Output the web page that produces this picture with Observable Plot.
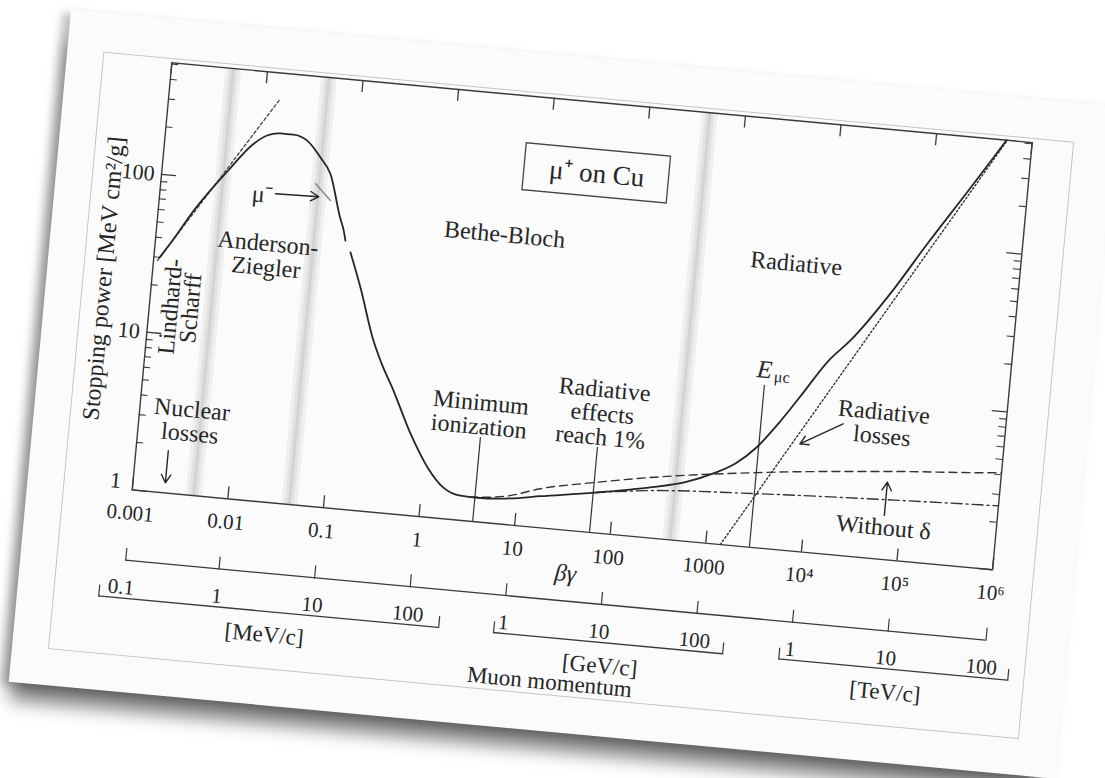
<!DOCTYPE html>
<html><head><meta charset="utf-8">
<script src="https://cdn.jsdelivr.net/npm/d3@7"></script>
<script src="https://cdn.jsdelivr.net/npm/@observablehq/plot@0.6"></script>
<style>
html,body{margin:0;padding:0;background:#fff;width:1105px;height:778px;overflow:hidden;}
#stage{position:absolute;left:0;top:0;width:1105px;height:778px;transform:rotate(5.3deg);transform-origin:581.75px 315.75px;}
#card{position:absolute;left:45px;top:58px;width:1050px;height:675px;background:#fbfbfb;
  box-shadow:-8px 4px 9px rgba(0,0,0,0.25), -6px 26px 18px -8px rgba(0,0,0,0.5);}
#inner{position:absolute;left:36px;top:39px;width:973px;height:598px;border:1px solid #c6c6c6;}
#main,#mom{position:absolute;left:0;}
#main{top:0px;}
#mom{top:541px;}
</style></head>
<body>
<div id="stage"><div id="card"><div id="inner"></div></div><div id="main"></div><div id="mom"></div></div>
<script>
// ---------- data ----------
const MUON_MASS = 105.66; // MeV/c^2, converts βγ to muon momentum
const bgDomain = [1e-3, 1e6];
const stopDomain = [1, 509];
const bgTicks = [1e-3, 1e-2, 0.1, 1, 10, 100, 1000, 1e4, 1e5, 1e6];
const bgTickLabels = ["0.001", "0.01", "0.1", "1", "10", "100", "1000", "10⁴", "10⁵", "10⁶"];
const stopMajor = [1, 10, 100];
const stopMinor = [2,3,4,5,6,7,8,9,20,30,40,50,60,70,80,90,200,300,400,500];
const regionBounds = [0.0044, 0.044, 425];

// total stopping power, μ+ on Cu: [βγ, MeV cm²/g]
const totalLow = [[0.00115,30],[0.0016,41.5],[0.00227,60],[0.0033,84],[0.00479,114],[0.00845,176],[0.01143,202],[0.01563,212],[0.0215,212],[0.0301,198],[0.0429,158],[0.0565,126],[0.0781,68.3],[0.0879,56.6],[0.0936,49.1]];
const totalHigh = [[0.1083,41.7],[0.1487,25.4],[0.228,12.0],[0.282,9.07],[0.411,5.98],[0.678,3.29],[1.10,2.06],[1.68,1.57],[2.57,1.43],[3.87,1.42],[8.53,1.47],[17.4,1.58],[62.6,1.79],[225,2.07],[525,2.34],[1030,2.77],[1702,3.29],[2714,4.27],[4353,6.22],[6784,9.32],[12500,16.5],[20220,22.8],[50000,50],[100000,100],[250000,240],[540000,509]];
const ionWithDelta = [[3.2,1.42],[8.0,1.52],[17,1.76],[61,2.07],[220,2.39],[2870,2.97],[89000,3.66],[930000,4.11],[1e6,4.13]];
const ionWithoutDelta = [[62.6,1.79],[226,1.98],[3000,2.19],[95000,2.41],[825000,2.53],[1e6,2.54]];
const radiativeLoss = [[1420,1.0],[549000,509]];
const lindhard = [[0.0011,28.6],[0.0145,351]];
const muMinus = [[0.0403,107.6],[0.0599,85.9]];
const markerLines = [{bg:3.64, top:3.40}, {bg:60.8, top:3.45}, {bg:2858, top:10.6}];

const labels = [
  {text:"Bethe-Bloch", bg:4.14, s:66.3},
  {text:"Radiative", bg:4667, s:64.4},
  {text:"Anderson-\nZiegler", bg:0.01486, s:35.6},
  {text:"Nuclear\nlosses", bg:0.00349, s:2.91},
  {text:"Minimum\nionization", bg:3.42, s:4.75},
  {text:"Radiative\neffects\nreach 1%", bg:63.6, s:5.68},
  {text:"Radiative\nlosses", bg:52900, s:7.10},
  {text:"Without δ", bg:67230, s:1.591}
];
const vLabels = [{text:"Lindhard-\nScharff", bg:0.00217, s:14.96}];
const boxLabel = {text:"μ⁺ on Cu", bg:32.6, s:181, bg1:5.73, bg2:185, s1:129, s2:256};
const muLabel = {text:"μ⁻", bg:0.01164, s:85.4};
const emuLabel = {bg:3354, s:13.3};
const arrows = [
  {bg1:0.00217, s1:1.85, bg2:0.00217, s2:1.16},
  {bg1:0.0159, s1:88.0, bg2:0.0449, s2:89.3},
  {bg1:20400, s1:6.76, bg2:7600, s2:4.77},
  {bg1:66900, s1:1.90, bg2:66900, s2:3.08}
];

// muon momentum scale (MeV/c); the 100 TeV tick coincides with the scale's right end
const momentumTicks = [1, 10, 100, 1e3, 1e4, 1e5, 1e6, 1e7];
const brackets = [
  {unit:"[MeV/c]", from:0.06, to:216, unitAt:3.4, per:1, labels:[0.1, 1, 10, 100]},
  {unit:"[GeV/c]", from:810, to:202000, unitAt:11000, per:1e3, labels:[1, 10, 100]},
  {unit:"[TeV/c]", from:780000, to:1.94e8, unitAt:1.06e7, per:1e6, labels:[1, 10, 100]}
];
const momentumTitle = {text:"Muon momentum", p:3440};

// ---------- drawing ----------
const SERIF = '"Liberation Serif","Times New Roman",serif';
const INK = "#262626", AX = "#3a3a3a";
const W = 1105, FL = 149.75, FR = 1013.75, FT = 101.25, FB = 530.25;
const frameW = FR - FL, frameH = FB - FT;
const pt = a => a.map(([bg, s]) => ({bg, s}));
const fmtBG = d => bgTickLabels[bgTicks.indexOf(d)];

const main = Plot.plot({
  width: W, height: 600,
  marginLeft: FL, marginRight: W - FR, marginTop: FT, marginBottom: 600 - FB,
  style: {background: "transparent", fontFamily: SERIF, color: INK},
  x: {type: "log", domain: bgDomain},
  y: {type: "log", domain: stopDomain},
  marks: [
    Plot.ruleX(regionBounds, {stroke: "#efefef", strokeWidth: 16}),
    Plot.ruleX(regionBounds, {stroke: "#e2e2e2", strokeWidth: 9}),
    Plot.ruleX(regionBounds, {stroke: "#d3d3d3", strokeWidth: 3}),
    Plot.frame({stroke: AX, strokeWidth: 1.4}),
    Plot.tickX(bgTicks, {x: d => d, insetTop: frameH - 12, stroke: AX, strokeWidth: 1.3}),
    Plot.tickX(bgTicks, {x: d => d, insetBottom: frameH - 12, stroke: AX, strokeWidth: 1.3}),
    Plot.tickY(stopMajor, {y: d => d, insetRight: frameW - 15, stroke: AX, strokeWidth: 1.3}),
    Plot.tickY(stopMajor, {y: d => d, insetLeft: frameW - 15, stroke: AX, strokeWidth: 1.3}),
    Plot.tickY(stopMinor, {y: d => d, insetRight: frameW - 7, stroke: AX, strokeWidth: 1.1}),
    Plot.tickY(stopMinor, {y: d => d, insetLeft: frameW - 7, stroke: AX, strokeWidth: 1.1}),
    Plot.axisX({ticks: bgTicks, tickFormat: fmtBG, tickSize: 0, tickPadding: 15, fontSize: 21, label: null, fill: INK}),
    Plot.axisY({ticks: stopMajor.slice(1), tickFormat: d => String(d), tickSize: 0, tickPadding: 7, fontSize: 22, label: null, fill: INK}),
    Plot.axisY({ticks: stopMajor.slice(0, 1), tickFormat: d => String(d), tickSize: 0, tickPadding: 12, dy: -8, fontSize: 22, label: null, fill: INK}),
    Plot.text(["Stopping power [MeV cm²/g]"], {frameAnchor: "left", textAnchor: "middle", lineAnchor: "middle", rotate: -90, dx: -48, dy: 6.5, fontSize: 24, fill: INK}),
    Plot.text(["βγ"], {frameAnchor: "bottom", lineAnchor: "middle", dx: 7, dy: 43, fontSize: 24, fontStyle: "italic", fill: INK}),
    // reference lines
    Plot.ruleX(markerLines, {x: "bg", y1: () => stopDomain[0], y2: "top", stroke: "#333", strokeWidth: 1.2}),
    // curves
    Plot.line(pt(lindhard), {x: "bg", y: "s", stroke: "#444", strokeWidth: 1.3, strokeDasharray: "3,2.5"}),
    Plot.line(pt(radiativeLoss), {x: "bg", y: "s", stroke: "#333", strokeWidth: 1.4, strokeDasharray: "1.6,2.4"}),
    Plot.line(pt(ionWithDelta), {x: "bg", y: "s", stroke: "#333", strokeWidth: 1.4, strokeDasharray: "8,5", curve: "monotone-x"}),
    Plot.line(pt(ionWithoutDelta), {x: "bg", y: "s", stroke: "#333", strokeWidth: 1.4, strokeDasharray: "11,4,2,4", curve: "monotone-x"}),
    Plot.line(pt(muMinus), {x: "bg", y: "s", stroke: "#888", strokeWidth: 1.5}),
    Plot.line(pt(totalLow), {x: "bg", y: "s", stroke: INK, strokeWidth: 1.8, curve: "monotone-x"}),
    Plot.line(pt(totalHigh), {x: "bg", y: "s", stroke: INK, strokeWidth: 1.8, curve: "monotone-x"}),
    // annotations
    Plot.arrow(arrows, {x1: "bg1", y1: "s1", x2: "bg2", y2: "s2", stroke: INK, strokeWidth: 1.4, headLength: 10}),
    Plot.rect([boxLabel], {x1: "bg1", x2: "bg2", y1: "s1", y2: "s2", fill: "none", stroke: "#444", strokeWidth: 1.3}),
    Plot.text([boxLabel], {x: "bg", y: "s", text: "text", fontSize: 27, fill: INK}),
    Plot.text(labels, {x: "bg", y: "s", text: "text", fontSize: 24, lineHeight: 1.0, fill: INK}),
    Plot.text(vLabels, {x: "bg", y: "s", text: "text", fontSize: 24, lineHeight: 0.85, rotate: -90, fill: INK}),
    Plot.text([muLabel], {x: "bg", y: "s", text: "text", fontSize: 24, fill: INK}),
    Plot.text([emuLabel], {x: "bg", y: "s", text: () => "E", dx: -8, fontSize: 25, fontStyle: "italic", fill: INK}),
    Plot.text([emuLabel], {x: "bg", y: "s", text: () => "μc", dx: 10, dy: 6, fontSize: 16, fill: INK})
  ]
});
document.getElementById("main").append(main);

// momentum scales under the βγ axis
const momDomain = bgDomain.map(b => b * MUON_MASS);
const bracketEnds = brackets.flatMap(b => [b.from, b.to]);
const bracketLabels = brackets.flatMap(b => b.labels.map(v => ({p: v * b.per, label: String(v)})));
const ROW = 38;
const mom = Plot.plot({
  width: W, height: 160,
  marginLeft: FL, marginRight: W - FR, marginTop: 23, marginBottom: 23,
  style: {background: "transparent", fontFamily: SERIF, color: INK},
  x: {type: "log", domain: momDomain, axis: null},
  y: {type: "band", domain: ["axis", "bracket", "units"], padding: 0, axis: null},
  marks: [
    Plot.barX([momDomain], {x1: d => d[0], x2: d => d[1], y: () => "axis", insetTop: ROW - 1.3, fill: AX}),
    Plot.tickX(momentumTicks, {x: d => d, y: () => "axis", insetTop: ROW - 13, stroke: AX, strokeWidth: 1.2}),
    Plot.tickX(momDomain, {x: d => d, y: () => "axis", insetTop: ROW - 13, stroke: AX, strokeWidth: 1.2}),
    Plot.barX(brackets, {x1: "from", x2: "to", y: () => "bracket", insetTop: ROW - 1.3, fill: AX}),
    Plot.tickX(bracketEnds, {x: d => d, y: () => "bracket", insetTop: ROW - 12, stroke: AX, strokeWidth: 1.2}),
    Plot.text(bracketLabels, {x: "p", y: () => "bracket", dy: 7, text: "label", fontSize: 21, fill: INK}),
    Plot.text(brackets, {x: "unitAt", y: () => "units", dy: 3, text: "unit", fontSize: 23, fill: INK}),
    Plot.text([momentumTitle], {x: "p", y: () => "units", dy: 24, text: "text", fontSize: 23, fill: INK})
  ]
});
document.getElementById("mom").append(mom);
</script>
</body></html>
